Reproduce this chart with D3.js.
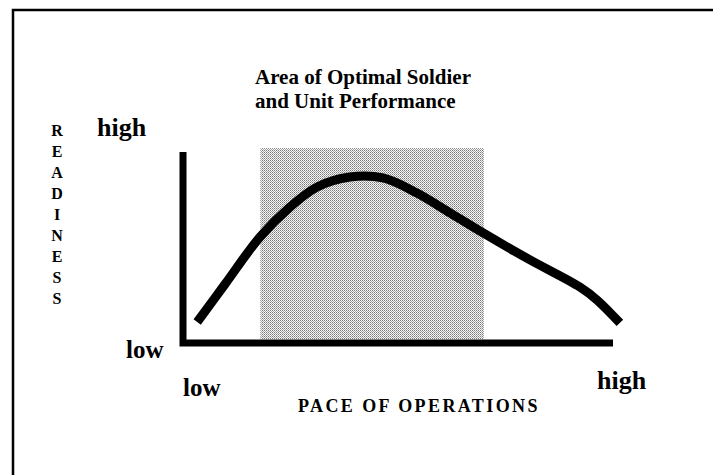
<!DOCTYPE html>
<meta charset="utf-8">
<style>
    body { margin: 0; background: #fff; }
    text { font-family: "Liberation Serif", "Times New Roman", serif; font-weight: bold; fill: #000; }
    .curve { fill: none; stroke: #000; stroke-width: 9px; stroke-linejoin: round; }
    .axis-line { fill: none; stroke: #000; stroke-width: 7px; }
</style>
<body>
<script src="https://cdnjs.cloudflare.com/ajax/libs/d3/7.8.5/d3.min.js"></script>
<script>
    // readiness curve (pace 0-100, readiness 0-100)
    var pace      = [3.3, 9.8, 17.9, 24.9, 31.2, 38.8, 46.5, 54.4, 62.1, 69.8, 80.7, 92.3, 96.3, 101.6];
    var readiness = [11, 30.9, 55.5, 71.2, 81.7, 86.9, 86.4, 78.5, 68.1, 57.6, 43.5, 29.3, 22.5, 10.5];

    // shaded area of optimal performance
    var zonePace = [18, 70];
    var zoneReadiness = [2, 102];

    var titleLines = ["Area of Optimal Soldier", "and Unit Performance"];
    var yLetters = "READINESS".split("");
    var yTicks = ["high", "low"];
    var xTicks = ["low", "high"];
    var xTitle = "PACE OF OPERATIONS";

    var W = 713, H = 475;
    var svg = d3.select("body").append("svg")
        .attr("width", W)
        .attr("height", H);

    // stipple fill
    var pat = svg.append("defs").append("pattern")
        .attr("id", "stipple")
        .attr("width", 2).attr("height", 2)
        .attr("patternUnits", "userSpaceOnUse");
    pat.append("rect").attr("width", 2).attr("height", 2).attr("fill", "#f6f6f6");
    pat.append("rect").attr("x", 0).attr("y", 0).attr("width", 1).attr("height", 1).attr("fill", "#7a7a7a");
    pat.append("rect").attr("x", 1).attr("y", 1).attr("width", 1).attr("height", 1).attr("fill", "#a6a6a6");

    // frame (left and top only)
    svg.append("path")
        .attr("d", "M13,475V10H713")
        .attr("fill", "none")
        .attr("stroke", "#000")
        .attr("stroke-width", 2.5);

    // scales
    var x = d3.scaleLinear().domain([0, 100]).range([183, 613]);
    var y = d3.scaleLinear().domain([0, 100]).range([343, 152]);

    // optimal zone
    svg.append("rect")
        .attr("x", x(zonePace[0]))
        .attr("y", y(zoneReadiness[1]))
        .attr("width", x(zonePace[1]) - x(zonePace[0]))
        .attr("height", y(zoneReadiness[0]) - y(zoneReadiness[1]))
        .attr("fill", "url(#stipple)");

    // axes
    svg.append("path")
        .attr("class", "axis-line")
        .attr("d", "M" + x(0) + "," + y(100) + "V" + y(0) + "H" + x(100));

    // curve
    var pts = pace.map(function (p, i) { return [p, readiness[i]]; });
    var line = d3.line()
        .x(function (d) { return x(d[0]); })
        .y(function (d) { return y(d[1]); })
        .curve(d3.curveCatmullRom.alpha(0.5));
    svg.append("path")
        .datum(pts)
        .attr("class", "curve")
        .attr("d", line);

    // title
    svg.selectAll(".title")
        .data(titleLines)
        .enter().append("text")
        .attr("class", "title")
        .attr("x", 255)
        .attr("y", function (d, i) { return 84 + i * 24; })
        .style("font-size", "21px")
        .text(function (d) { return d; });

    // vertical READINESS letters
    svg.selectAll(".yl")
        .data(yLetters)
        .enter().append("text")
        .attr("class", "yl")
        .attr("x", 57)
        .attr("y", function (d, i) { return 136 + i * 21; })
        .attr("text-anchor", "middle")
        .style("font-size", "16px")
        .text(function (d) { return d; });

    // y end labels
    svg.append("text").attr("x", 97).attr("y", 136).style("font-size", "26px").text(yTicks[0]);
    svg.append("text").attr("x", 126).attr("y", 358).style("font-size", "25px").text(yTicks[1]);

    // x end labels
    svg.append("text").attr("x", 183).attr("y", 396).style("font-size", "25px").text(xTicks[0]);
    svg.append("text").attr("x", 597).attr("y", 389).style("font-size", "26px").text(xTicks[1]);

    svg.append("text")
        .attr("x", 298)
        .attr("y", 412)
        .style("font-size", "18px")
        .style("letter-spacing", "2.4px")
        .text(xTitle);
</script>
</body>
